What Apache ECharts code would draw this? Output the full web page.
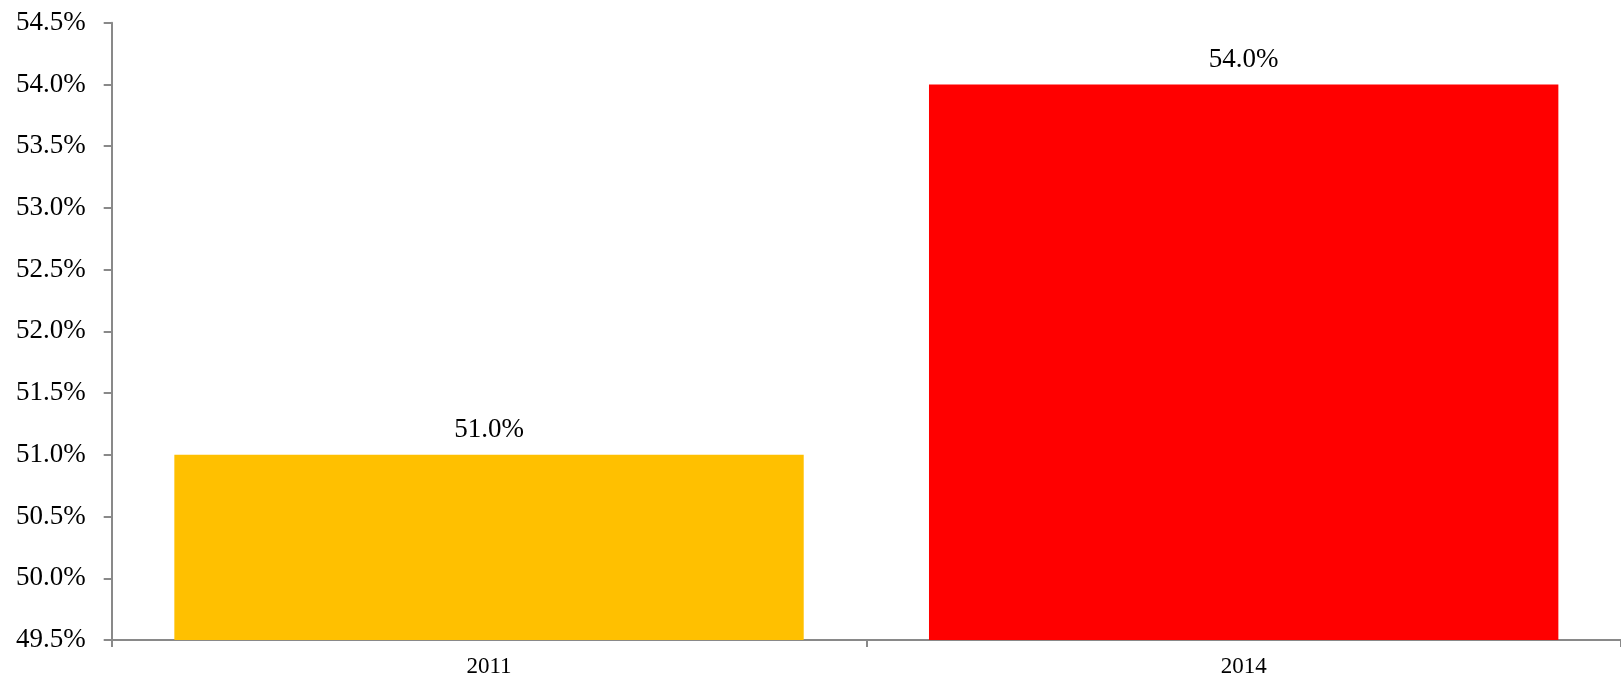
<!DOCTYPE html>
<html>
<head>
<meta charset="utf-8">
<script src="https://cdn.jsdelivr.net/npm/echarts@6/dist/echarts.min.js"></script>
<style>
html,body{margin:0;padding:0;background:#fff;}
#chart{width:1621px;height:678px;}
</style>
</head>
<body>
<div id="chart"></div>
<script>
var categories = ['2011', '2014'];
var values = [51.0, 54.0];
var barColors = ['#FFC000', '#FF0000'];

var chart = echarts.init(document.getElementById('chart'), null, {renderer: 'canvas'});
var axisColor = '#898989';
var serif = '"Liberation Serif", "DejaVu Serif", serif';
var option = {
  animation: false,
  backgroundColor: '#ffffff',
  grid: {left: 111.7, width: 1522, top: 22.7, height: 618, containLabel: false},
  xAxis: {
    type: 'category',
    data: categories,
    axisLine: {lineStyle: {color: axisColor, width: 2}},
    axisTick: {show: true, alignWithLabel: false, length: 7, lineStyle: {color: axisColor, width: 2}},
    axisLabel: {color: '#000', fontFamily: serif, fontSize: 23, margin: 15}
  },
  yAxis: {
    type: 'value',
    min: 49.5,
    max: 54.5,
    interval: 0.5,
    splitLine: {show: false},
    axisLine: {show: true, lineStyle: {color: axisColor, width: 2}},
    axisTick: {show: true, length: 8, lineStyle: {color: axisColor, width: 2}},
    axisLabel: {
      color: '#000', fontFamily: serif, fontSize: 27, margin: 26,
      formatter: function (v) { return v.toFixed(1) + '%'; }
    }
  },
  series: [{
    type: 'bar',
    data: values.map(function (v, i) { return {value: v, itemStyle: {color: barColors[i]}}; }),
    barCategoryGap: '16.6%',
    label: {
      show: true, position: 'top', distance: 11,
      color: '#000', fontFamily: serif, fontSize: 27,
      formatter: function (p) { return p.value.toFixed(1) + '%'; }
    }
  }]
};
chart.setOption(option);
</script>
</body>
</html>
